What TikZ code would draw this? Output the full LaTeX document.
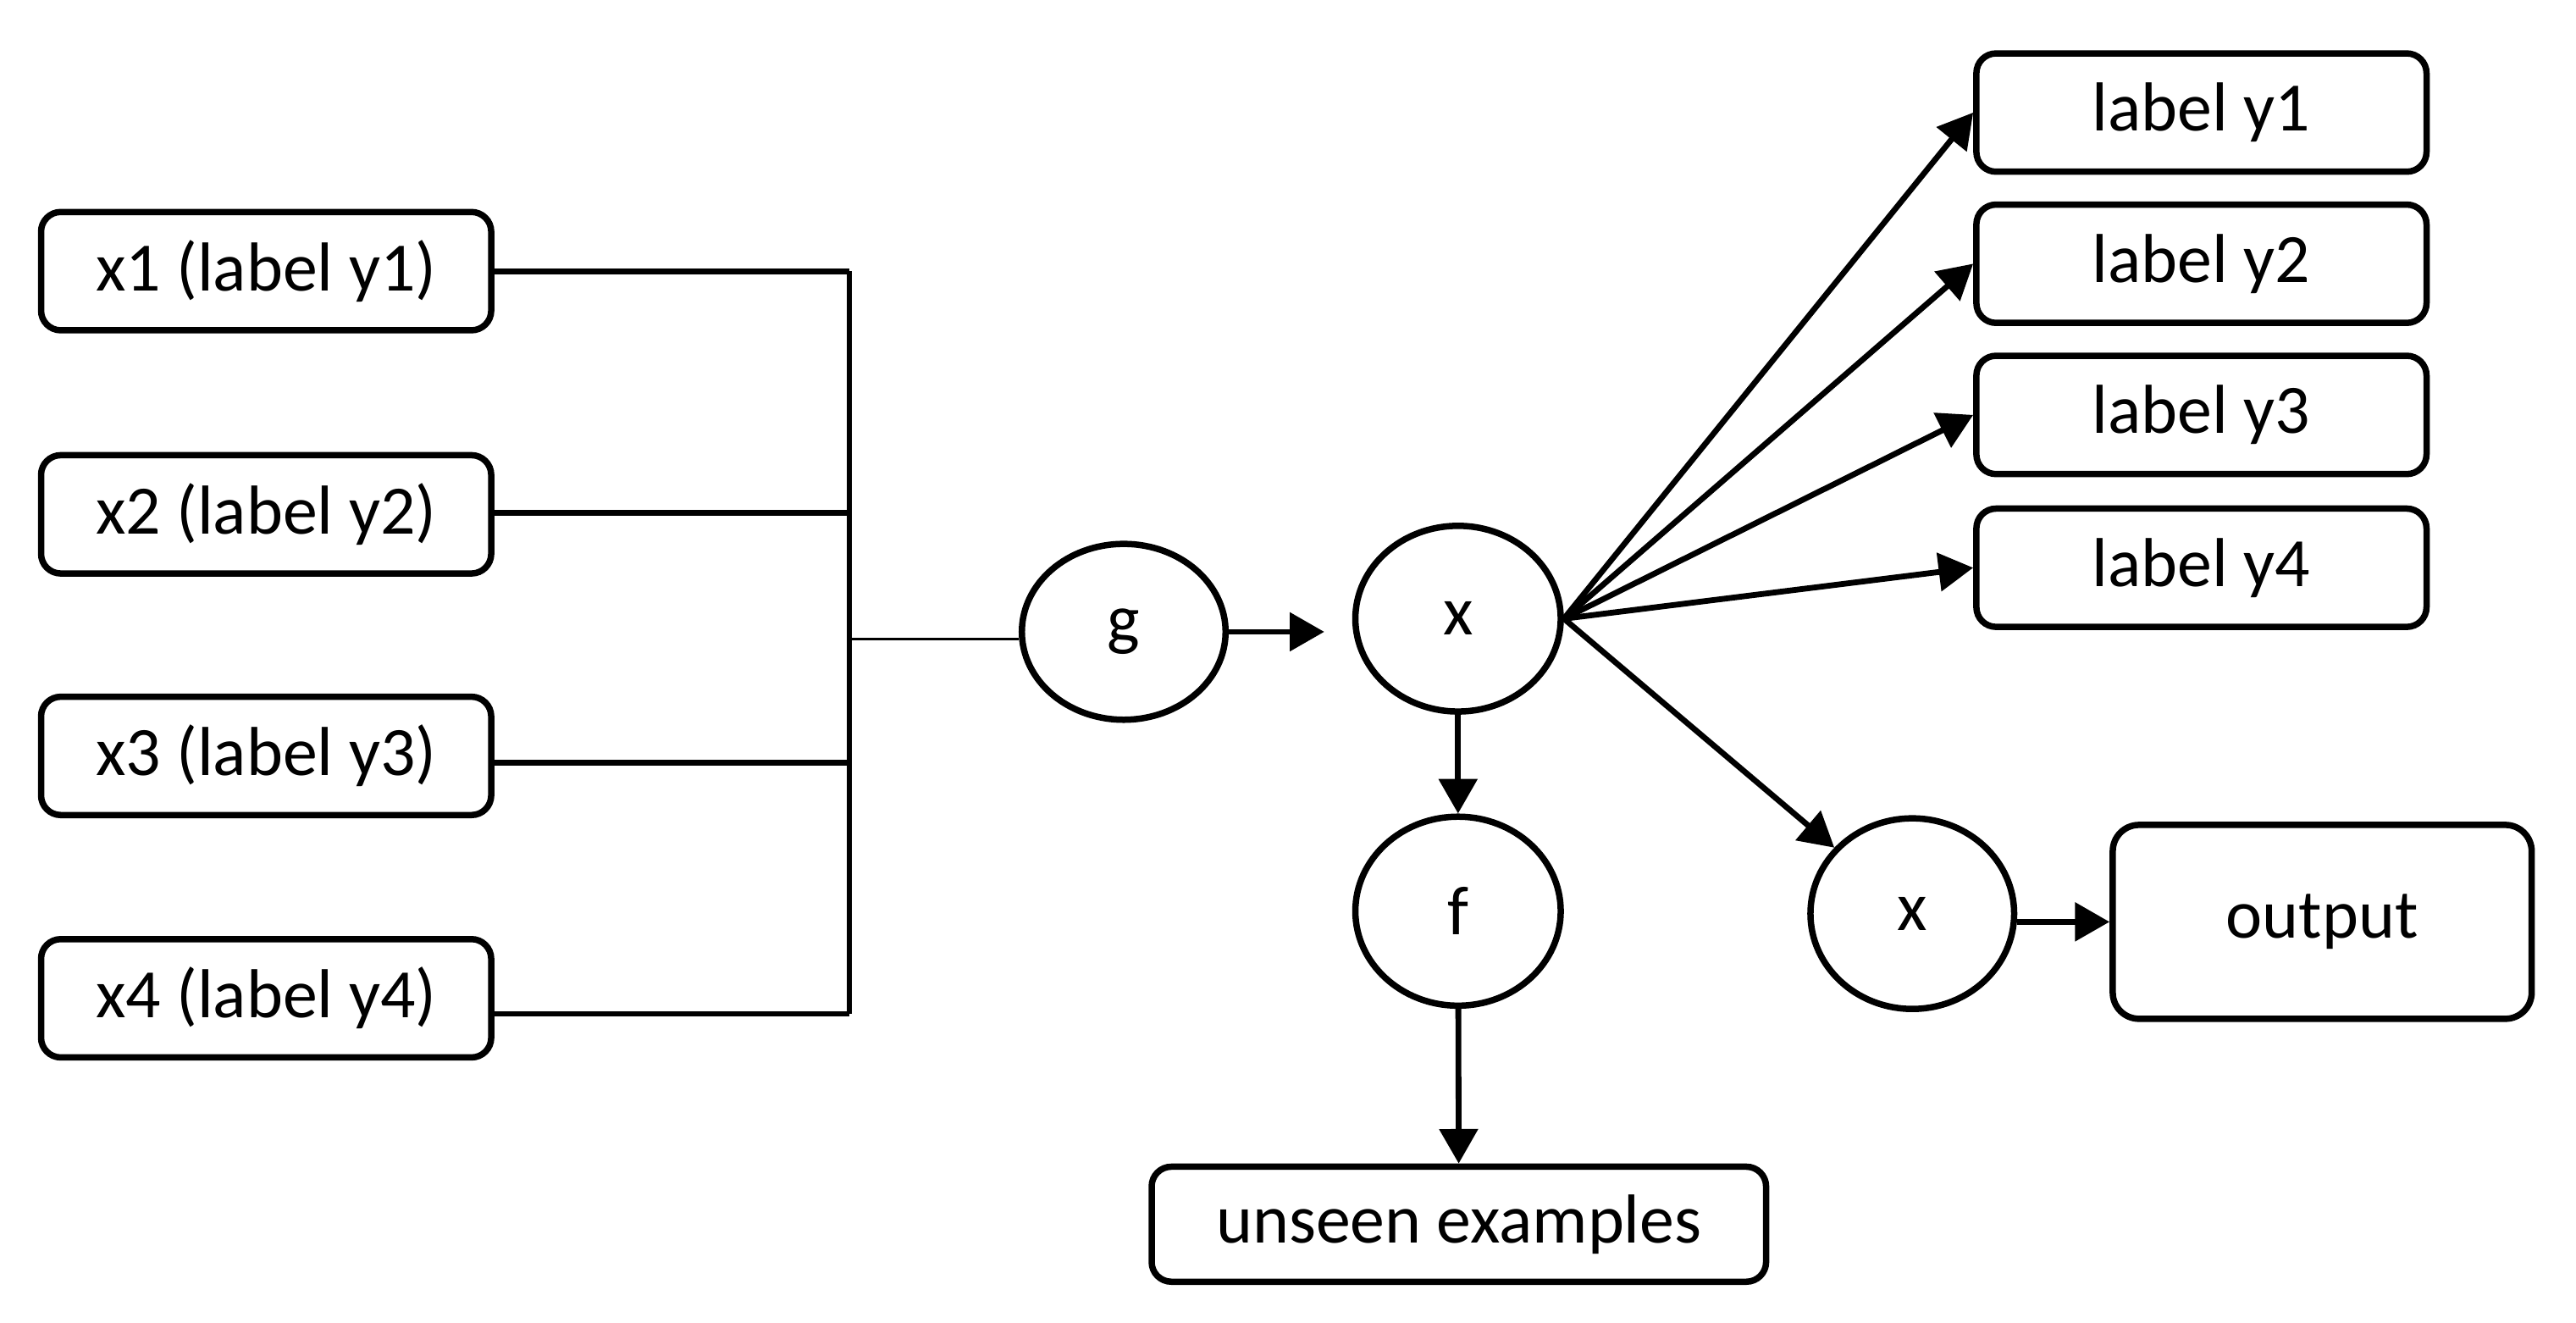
\documentclass[tikz,border=0pt]{standalone}
\usepackage{fontspec}
\setmainfont{Carlito}
\usetikzlibrary{shapes.geometric,arrows.meta}

\begin{document}
\begin{tikzpicture}[
  caja/.style={draw=black, line width=1.1pt, rounded corners=1.2mm, minimum width=2.74cm, minimum height=0.72cm, inner sep=0pt, font=\fontsize{12}{14}\selectfont},
  nodo/.style={ellipse, draw=black, line width=1.1pt, inner sep=0pt, font=\fontsize{12}{14}\selectfont},
  flecha/.style={line width=1pt, -{Triangle[length=2.1mm,width=2.3mm]}},
  linea/.style={line width=1pt}
]
  \useasboundingbox (0,0) rectangle (15.68,-8.05);

  % Entradas
  \foreach \i/\y in {1/1.65, 2/3.13, 3/4.60, 4/6.075} {
    \node[caja] (in\i) at (1.62,-\y) {x\i{} (label y\i)};
  }

  % Barra
  \foreach \i/\y in {1/1.65, 2/3.12, 3/4.64, 4/6.17} {
    \coordinate (b\i) at (5.17,-\y);
  }
  \coordinate (j) at (5.17,-3.89);

  % Nodos
  \node[nodo, minimum width=1.24cm, minimum height=1.07cm] (g) at (6.84,-3.845) {g};
  \node[nodo, minimum width=1.25cm, minimum height=1.13cm] (x) at (8.875,-3.765) {x};
  \node[nodo, minimum width=1.25cm, minimum height=1.15cm] (f) at (8.875,-5.545) {f};
  \node[nodo, minimum width=1.24cm, minimum height=1.16cm] (x2) at (11.64,-5.56) {x};

  % Salidas
  \foreach \i/\y in {1/0.685, 2/1.605, 3/2.525, 4/3.455} {
    \node[caja] (lab\i) at (13.40,-\y) {label y\i};
  }
  \node[caja, minimum width=3.74cm, minimum height=0.70cm] (unseen) at (8.88,-7.45) {unseen examples};
  \node[caja, minimum width=2.55cm, minimum height=1.18cm, rounded corners=1.6mm] (out) at (14.135,-5.61) {output};

  % Conexiones
  \foreach \i in {1,...,4} {
    \draw[linea] (in\i.east |- b\i) -- (b\i);
  }
  \draw[linea] (b1) -- (b4);
  \draw[line width=0.4pt] (j) -- (j -| g.west);
  \draw[flecha, shorten >=1.7mm] (g.east) -- (g.east -| x.west);
  \draw[flecha] (x) -- (f);
  \draw[flecha] (f) -- (unseen);
  \foreach \i in {1,...,4} {
    \draw[flecha] (x.east) -- (lab\i.west);
  }
  \draw[flecha] (x.east) -- (x2);
  \draw[flecha] (out.west -| x2.east) -- (out.west);
\end{tikzpicture}
\end{document}
